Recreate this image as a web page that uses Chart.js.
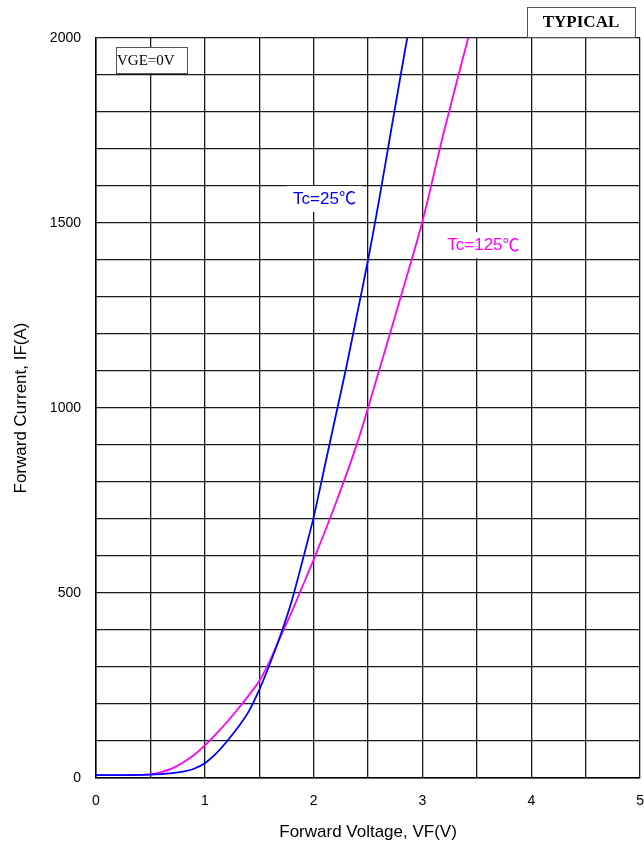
<!DOCTYPE html>
<html>
<head>
<meta charset="utf-8">
<script src="https://cdn.jsdelivr.net/npm/chart.js@4/dist/chart.umd.min.js"></script>
<style>
  html, body { margin: 0; padding: 0; background: #fff; }
  #wrap { position: relative; width: 644px; height: 847px; overflow: hidden; }
</style>
</head>
<body>
<div id="wrap"><canvas id="chart" width="659" height="847"></canvas></div>
<script>
// forward voltage (V) vs forward current (A)
const vf25 = [0, 0.3, 0.5, 0.7, 0.8, 0.9, 1.0, 1.1, 1.2, 1.3, 1.4, 1.5, 1.6, 1.7, 1.8, 1.9, 2.0, 2.1, 2.2, 2.3, 2.4, 2.5, 2.6, 2.7, 2.8, 2.86];
const if25 = [8, 8, 9, 13, 17, 25, 40, 65, 98, 135, 178, 238, 310, 390, 480, 590, 705, 840, 975, 1110, 1255, 1400, 1560, 1730, 1900, 2000];

const vf125 = [0, 0.3, 0.5, 0.6, 0.7, 0.8, 0.9, 1.0, 1.1, 1.2, 1.3, 1.4, 1.5, 1.6, 1.7, 1.8, 1.9, 2.0, 2.2, 2.4, 2.6, 2.8, 3.0, 3.2, 3.42];
const if125 = [8, 8, 10, 16, 26, 42, 62, 88, 118, 150, 185, 222, 262, 318, 385, 450, 520, 590, 740, 905, 1100, 1300, 1505, 1750, 2000];

const xTickLabels = [0, 1, 2, 3, 4, 5];
const yTickLabels = [0, 500, 1000, 1500, 2000];

const curveLabels = [
  { text: "Tc=25", unit: "\u2103", x: 2.1, y: 1565, color: "#0000ff" },
  { text: "Tc=125", unit: "\u2103", x: 3.56, y: 1440, color: "#ff00ff" }
];

function toPoints(xs, ys) {
  return xs.map((x, i) => ({ x: x, y: ys[i] }));
}

const boxPlugin = {
  id: "boxes",
  afterDraw(chart) {
    const ctx = chart.ctx;
    const xs = chart.scales.x;
    const ys = chart.scales.y;
    ctx.save();

    // curve labels with white background
    const mainFont = "17px 'Liberation Sans', Arial, sans-serif";
    const unitFont = "17px 'Noto Sans CJK JP', sans-serif";
    ctx.textBaseline = "middle";
    ctx.textAlign = "left";
    curveLabels.forEach(l => {
      const px = xs.getPixelForValue(l.x);
      const py = ys.getPixelForValue(l.y);
      ctx.font = mainFont;
      const w1 = ctx.measureText(l.text).width;
      ctx.font = unitFont;
      const w2 = ctx.measureText(l.unit).width;
      const w = w1 + w2;
      ctx.fillStyle = "#fff";
      ctx.fillRect(px - w / 2 - 6, py - 13, w + 12, 26);
      ctx.fillStyle = l.color;
      ctx.font = mainFont;
      ctx.fillText(l.text, px - w / 2, py);
      ctx.font = unitFont;
      ctx.fillText(l.unit, px - w / 2 + w1, py - 1);
    });

    // VGE=0V box
    ctx.font = "15px 'Liberation Serif', 'Times New Roman', serif";
    ctx.fillStyle = "#fff";
    ctx.fillRect(116, 47, 71, 26);
    ctx.strokeStyle = "#555";
    ctx.lineWidth = 1;
    ctx.strokeRect(116.5, 47.5, 71, 26);
    ctx.fillStyle = "#000";
    ctx.textAlign = "left";
    ctx.fillText("VGE=0V", 117, 61);

    // TYPICAL box
    ctx.font = "bold 17px 'Liberation Serif', 'Times New Roman', serif";
    ctx.fillStyle = "#fff";
    ctx.fillRect(527, 7, 108, 30);
    ctx.strokeStyle = "#555";
    ctx.strokeRect(527.5, 7.5, 108, 30);
    ctx.fillStyle = "#000";
    ctx.textAlign = "center";
    ctx.fillText("TYPICAL", 581, 23);

    ctx.restore();
  }
};

new Chart(document.getElementById("chart"), {
  type: "scatter",
  data: {
    datasets: [
      { label: "Tc=25", data: toPoints(vf25, if25), showLine: true, borderColor: "#0000ff", borderWidth: 1.8, pointRadius: 0, tension: 0.3 },
      { label: "Tc=125", data: toPoints(vf125, if125), showLine: true, borderColor: "#ff00ff", borderWidth: 1.8, pointRadius: 0, tension: 0.3 }
    ]
  },
  options: {
    responsive: false,
    animation: false,
    layout: { padding: { left: 0, right: 0, top: 38, bottom: 0 } },
    plugins: { legend: { display: false }, tooltip: { enabled: false } },
    scales: {
      x: {
        type: "linear",
        min: 0,
        max: 5,
        afterFit: s => { s.height = 69; },
        grid: { color: "#1a1a1a", lineWidth: 1.3, drawTicks: false },
        border: { color: "#000", width: 1.5 },
        ticks: {
          stepSize: 0.5,
          padding: 15,
          color: "#000",
          font: { family: "'Liberation Sans', Arial, sans-serif", size: 14 },
          callback: v => xTickLabels.includes(v) ? String(v) : ""
        },
        title: {
          display: true,
          text: "Forward Voltage, VF(V)",
          color: "#000",
          font: { family: "'Liberation Sans', Arial, sans-serif", size: 17 },
          padding: { top: 4, bottom: 4 }
        }
      },
      y: {
        type: "linear",
        min: 0,
        max: 2000,
        afterFit: s => { s.width = 96; },
        grid: { color: "#1a1a1a", lineWidth: 1.3, drawTicks: false },
        border: { color: "#000", width: 1.5 },
        ticks: {
          stepSize: 100,
          padding: 15,
          color: "#000",
          font: { family: "'Liberation Sans', Arial, sans-serif", size: 14 },
          callback: v => yTickLabels.includes(v) ? String(v) : ""
        },
        title: {
          display: true,
          text: "Forward Current, IF(A)",
          color: "#000",
          font: { family: "'Liberation Sans', Arial, sans-serif", size: 17 },
          padding: { top: 11, bottom: 4 }
        }
      }
    }
  },
  plugins: [boxPlugin]
});
</script>
</body>
</html>
